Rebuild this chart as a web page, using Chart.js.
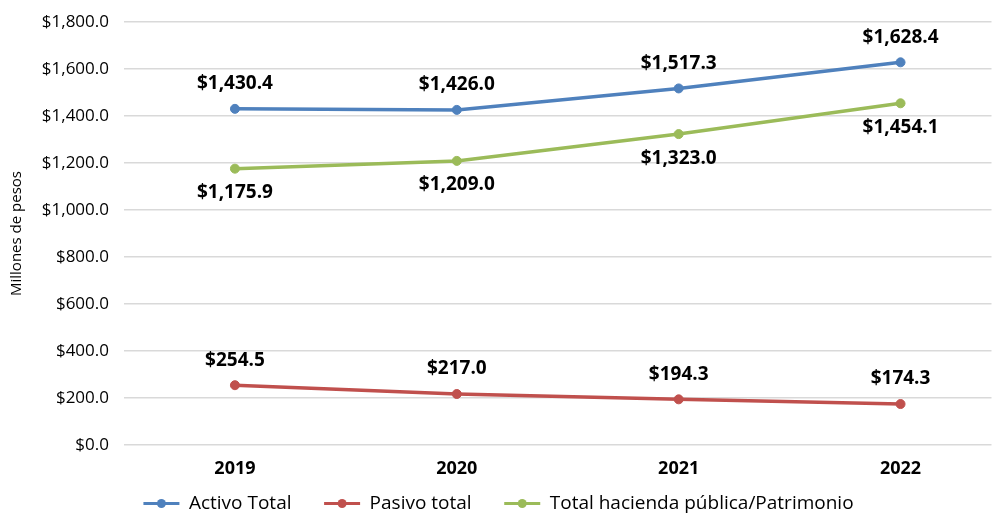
<!DOCTYPE html>
<html><head><meta charset="utf-8">
<script src="https://cdn.jsdelivr.net/npm/chart.js@4"></script>
<style>html,body{margin:0;padding:0;background:#fff}#wrap{width:997px;height:513px}</style>
</head><body><div id="wrap"><canvas id="c" width="997" height="513"></canvas></div>
<script>
const categories = ['2019','2020','2021','2022'];
const activoTotal = [1430.4, 1426.0, 1517.3, 1628.4];
const pasivoTotal = [254.5, 217.0, 194.3, 174.3];
const haciendaPublica = [1175.9, 1209.0, 1323.0, 1454.1];
const yTicks = [0,200,400,600,800,1000,1200,1400,1600,1800];
const seriesNames = ['Activo Total','Pasivo total','Total hacienda pública/Patrimonio'];
const FONT = "'Open Sans', 'Noto Sans', sans-serif";

function fmt(v){return '$'+v.toLocaleString('en-US',{minimumFractionDigits:1,maximumFractionDigits:1});}

const labelPlugin = {
  id:'lbl',
  afterDatasetsDraw(chart){
    const ctx = chart.ctx;
    ctx.save();
    ctx.font = "bold 19px "+FONT;
    ctx.fillStyle = '#000';
    ctx.textAlign='center'; ctx.textBaseline='middle';
    chart.data.datasets.forEach((ds,i)=>{
      const meta = chart.getDatasetMeta(i);
      meta.data.forEach((pt,j)=>{
        const off = ds.labelPos==='below' ? 24 : -25;
        ctx.fillText(fmt(ds.data[j].y), pt.x, pt.y+off);
      });
    });
    ctx.restore();
  },
  afterDraw(chart){
    const lg = chart.legend; if(!lg || !lg.legendHitBoxes) return;
    const ctx = chart.ctx; ctx.save();
    lg.legendHitBoxes.forEach((hb,i)=>{
      ctx.fillStyle = chart.data.datasets[i].borderColor;
      ctx.beginPath(); ctx.arc(hb.left+18, hb.top+hb.height/2, 4.5, 0, Math.PI*2); ctx.fill();
    });
    ctx.restore();
  }
};

function pts(arr){return arr.map((v,i)=>({x:i,y:v}));}

new Chart(document.getElementById('c'),{
  type:'line',
  data:{datasets:[
    {label:seriesNames[0],data:pts(activoTotal),borderColor:'#4F81BD',backgroundColor:'#4F81BD',labelPos:'above'},
    {label:seriesNames[1],data:pts(pasivoTotal),borderColor:'#C0504D',backgroundColor:'#C0504D',labelPos:'above'},
    {label:seriesNames[2],data:pts(haciendaPublica),borderColor:'#9BBB59',backgroundColor:'#9BBB59',labelPos:'below'}
  ]},
  options:{
    responsive:false,animation:false,
    layout:{padding:{top:22,right:0,left:0,bottom:-10}},
    elements:{line:{borderWidth:3.5,tension:0},point:{radius:4.5,hoverRadius:4.5}},
    scales:{
      x:{type:'linear',min:-0.5,max:3.41,
        afterBuildTicks(ax){ax.ticks=categories.map((c,i)=>({value:i}));},
        afterFit(ax){ax.height=46;},
        grid:{display:false},border:{display:false},
        ticks:{callback:(v)=>categories[v],color:'#000',font:{family:FONT,size:18,weight:'bold'},padding:5,maxRotation:0}
      },
      y:{min:0,max:1800,
        afterBuildTicks(ax){ax.ticks=yTicks.map(v=>({value:v}));},
        afterFit(ax){ax.width=124;ax.paddingTop=0;ax.paddingBottom=0;},
        grid:{color:'#d9d9d9',lineWidth:1.5,drawTicks:false},border:{display:false},
        ticks:{callback:(v)=>fmt(v),color:'#000',font:{family:FONT,size:17},padding:15},
        title:{display:true,text:'Millones de pesos',color:'#000',font:{family:FONT,size:15},padding:{top:8,bottom:0}}
      }
    },
    plugins:{
      legend:{position:'bottom',labels:{color:'#000',font:{family:FONT,size:19},boxWidth:36,boxHeight:3,padding:3,
        generateLabels(chart){return chart.data.datasets.map((ds,i)=>({text:i<2?ds.label+'      ':ds.label,fillStyle:ds.borderColor,strokeStyle:ds.borderColor,lineWidth:0,datasetIndex:i,fontColor:'#000'}));}}},
      tooltip:{enabled:false}
    }
  },
  plugins:[labelPlugin]
});
</script></body></html>
